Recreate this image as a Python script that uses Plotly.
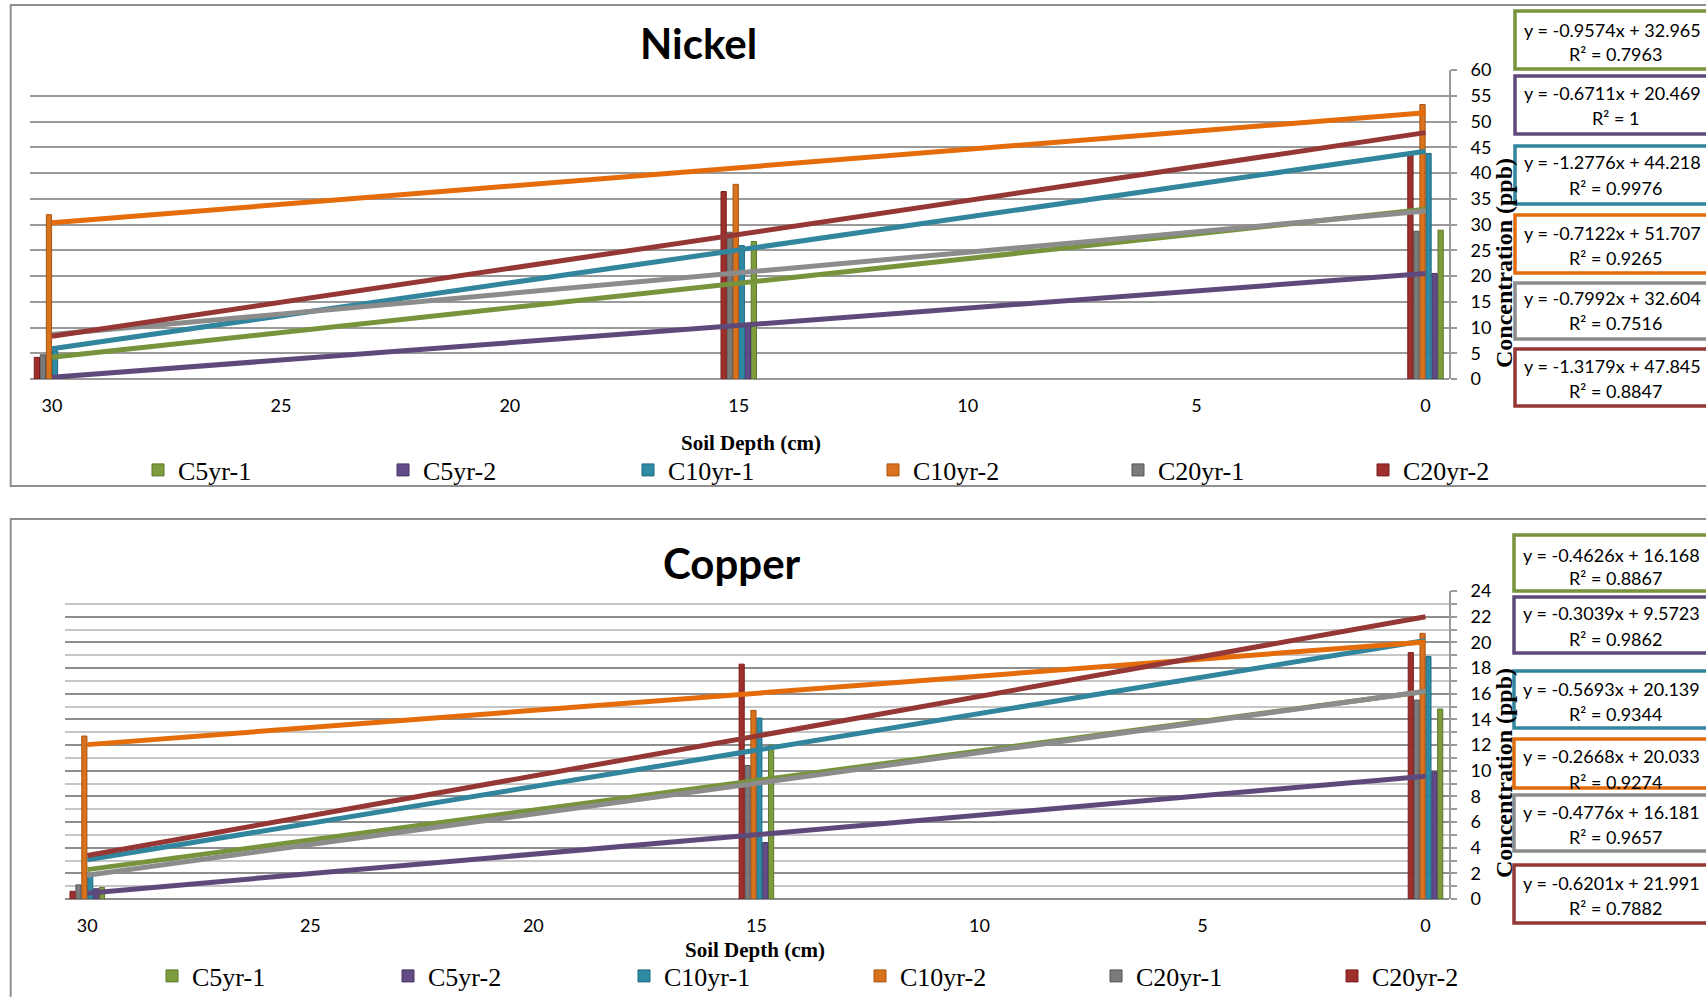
import plotly.graph_objects as go

W, H = 1706, 997

# ---------------- data ----------------
depths = [30, 15, 0]
series_names = ["C5yr-1", "C5yr-2", "C10yr-1", "C10yr-2", "C20yr-1", "C20yr-2"]

# Nickel concentrations (ppb) at depths 30, 15, 0 cm
ni_c5yr_1 = [0.2, 26.7, 28.9]
ni_c5yr_2 = [0.3, 10.4, 20.5]
ni_c10yr_1 = [5.5, 25.9, 43.8]
ni_c10yr_2 = [31.9, 37.8, 53.3]
ni_c20yr_1 = [4.7, 28.5, 28.7]
ni_c20yr_2 = [4.2, 36.4, 43.7]

# Copper concentrations (ppb) at depths 30, 15, 0 cm
cu_c5yr_1 = [0.9, 12.0, 14.8]
cu_c5yr_2 = [0.8, 4.4, 9.9]
cu_c10yr_1 = [1.8, 14.1, 18.9]
cu_c10yr_2 = [12.7, 14.7, 20.7]
cu_c20yr_1 = [1.1, 10.4, 15.5]
cu_c20yr_2 = [0.6, 18.3, 19.2]

# Linear trendlines shown on the chart (y = slope*x + intercept)
ni_slopes = [-0.9574, -0.6711, -1.2776, -0.7122, -0.7992, -1.3179]
ni_intercepts = [32.965, 20.469, 44.218, 51.707, 32.604, 47.845]
ni_r2 = ["0.7963", "1", "0.9976", "0.9265", "0.7516", "0.8847"]

cu_slopes = [-0.4626, -0.3039, -0.5693, -0.2668, -0.4776, -0.6201]
cu_intercepts = [16.168, 9.5723, 20.139, 20.033, 16.181, 21.991]
cu_r2 = ["0.8867", "0.9862", "0.9344", "0.9274", "0.9657", "0.7882"]

trend_x = [30, 0]
x_ticks = [30, 25, 20, 15, 10, 5, 0]

# ---------------- style ----------------
bar_fill = ["#7d9c3d", "#624c88", "#2e8aa5", "#d9721d", "#7b7b7b", "#9e2f2c"]
bar_edge = ["#5c7729", "#463367", "#1e6a80", "#a85412", "#555555", "#771e1c"]
line_col = ["#77933C", "#5F497A", "#31859C", "#E46C0A", "#8C8C8C", "#953735"]

TICK_FONT = dict(family="Lato, 'Open Sans', sans-serif", size=18, color="black")
SERIF = "'Liberation Serif', 'Times New Roman', serif"


def px(x):
    return x / W


def py(y):
    return 1 - y / H


ni_data = [ni_c5yr_1, ni_c5yr_2, ni_c10yr_1, ni_c10yr_2, ni_c20yr_1, ni_c20yr_2]
cu_data = [cu_c5yr_1, cu_c5yr_2, cu_c10yr_1, cu_c10yr_2, cu_c20yr_1, cu_c20yr_2]

fig = go.Figure()

slot = 0.132
bw = 0.115

panels = [
    ("x", "y", "legend", ni_data, ni_slopes, ni_intercepts),
    ("x2", "y2", "legend2", cu_data, cu_slopes, cu_intercepts),
]

for xa, ya, lg, data, slopes, intercepts in panels:
    for i, name in enumerate(series_names):
        fig.add_trace(go.Bar(
            x=depths, y=data[i], name=name, xaxis=xa, yaxis=ya, legend=lg,
            width=bw, offset=(i - 2.5) * slot - bw / 2,
            marker=dict(color=bar_fill[i], line=dict(color=bar_edge[i], width=1)),
            hoverinfo="x+y+name",
        ))
    for i, name in enumerate(series_names):
        fig.add_trace(go.Scatter(
            x=trend_x, y=[slopes[i] * t + intercepts[i] for t in trend_x],
            mode="lines", line=dict(color=line_col[i], width=5),
            xaxis=xa, yaxis=ya, showlegend=False, hoverinfo="skip",
            name=name + " trend",
        ))

xcommon = dict(
    tickmode="array", tickvals=x_ticks, ticktext=[str(t) for t in x_ticks],
    showgrid=False, zeroline=False, showline=False, ticks="",
    tickfont=TICK_FONT, ticklabelstandoff=14, fixedrange=True, automargin=False,
)

fig.update_layout(
    width=W, height=H,
    margin=dict(l=0, r=0, t=0, b=0, pad=0, autoexpand=False),
    paper_bgcolor="white", plot_bgcolor="white",
    barmode="overlay",
    xaxis=dict(domain=[px(30), px(1449)], range=[30.48, -0.513], anchor="y", **xcommon),
    yaxis=dict(
        domain=[py(379), py(70)], range=[0, 60], dtick=5, anchor="x", side="right",
        showgrid=True, gridcolor="#9a9a9a", gridwidth=2,
        zeroline=True, zerolinecolor="#9a9a9a", zerolinewidth=2,
        showline=True, linecolor="#9a9a9a", linewidth=2,
        ticks="outside", ticklen=6, tickcolor="#9a9a9a", tickwidth=2,
        tickfont=TICK_FONT, ticklabelstandoff=10, fixedrange=True, automargin=False,
    ),
    xaxis2=dict(domain=[px(65), px(1449)], range=[30.5, -0.527], anchor="y2", **xcommon),
    yaxis2=dict(
        domain=[py(899), py(591)], range=[0, 24], dtick=2, anchor="x2", side="right",
        showgrid=True, gridcolor="#8e8e8e", gridwidth=2,
        zeroline=True, zerolinecolor="#8e8e8e", zerolinewidth=2,
        showline=True, linecolor="#9a9a9a", linewidth=2,
        ticks="outside", ticklen=6, tickcolor="#9a9a9a", tickwidth=2,
        minor=dict(dtick=1, showgrid=True, gridcolor="#c6c6c6", gridwidth=2,
                   ticks="outside", ticklen=6, tickcolor="#9a9a9a"),
        tickfont=TICK_FONT, ticklabelstandoff=10, fixedrange=True, automargin=False,
    ),
    legend=dict(
        orientation="h", x=px(138), xanchor="left", y=py(470), yanchor="middle",
        font=dict(family=SERIF, size=26, color="black"),
        entrywidth=200, entrywidthmode="pixels", bgcolor="rgba(0,0,0,0)",
        traceorder="normal",
    ),
    legend2=dict(
        orientation="h", x=px(152), xanchor="left", y=py(976), yanchor="middle",
        font=dict(family=SERIF, size=26, color="black"),
        entrywidth=191, entrywidthmode="pixels", bgcolor="rgba(0,0,0,0)",
        traceorder="normal",
    ),
    showlegend=True,
)

shapes = []
annotations = []

# panel borders
shapes.append(dict(type="rect", xref="paper", yref="paper",
                   x0=px(10.7), x1=px(1760), y0=py(5), y1=py(486),
                   line=dict(color="#8f8f8f", width=2), layer="below"))
shapes.append(dict(type="rect", xref="paper", yref="paper",
                   x0=px(10.7), x1=px(1760), y0=py(519), y1=py(1040),
                   line=dict(color="#8f8f8f", width=2), layer="below"))

# trendline equation boxes: (top, bottom, line1 y, line2 y)
ni_boxes = [(11, 69, 30, 54), (76, 134, 93, 118), (146, 204, 162, 188),
            (215, 273, 233, 258), (283, 339, 298, 323), (349, 406, 366, 391)]
cu_boxes = [(535, 591, 555, 578), (597, 653, 613, 639), (671, 728, 689, 714),
            (739, 788, 756, 782), (795, 851, 812, 837), (865, 923, 883, 908)]

for boxes, slopes, intercepts, r2s, bx in [
        (ni_boxes, ni_slopes, ni_intercepts, ni_r2, 1515),
        (cu_boxes, cu_slopes, cu_intercepts, cu_r2, 1514)]:
    for i, (top, bot, l1, l2) in enumerate(boxes):
        shapes.append(dict(type="rect", xref="paper", yref="paper",
                           x0=px(bx), x1=px(1760), y0=py(bot), y1=py(top),
                           line=dict(color=line_col[i], width=3.5),
                           fillcolor="white", layer="above"))
        annotations.append(dict(
            xref="paper", yref="paper", x=px(bx + 7), y=py(l1),
            xanchor="left", yanchor="middle", showarrow=False,
            text=f"y = {slopes[i]}x + {intercepts[i]}",
            font=dict(family="Lato, sans-serif", size=18, color="black")))
        annotations.append(dict(
            xref="paper", yref="paper", x=px(1615), y=py(l2),
            xanchor="center", yanchor="middle", showarrow=False,
            text=f"R² = {r2s[i]}",
            font=dict(family="Lato, sans-serif", size=18, color="black")))

# titles and axis titles
annotations += [
    dict(xref="paper", yref="paper", x=px(698), y=py(43), text="<b>Nickel</b>",
         showarrow=False, xanchor="center", yanchor="middle",
         font=dict(family="Lato, sans-serif", size=42, color="black")),
    dict(xref="paper", yref="paper", x=px(732), y=py(563), text="<b>Copper</b>",
         showarrow=False, xanchor="center", yanchor="middle",
         font=dict(family="Lato, sans-serif", size=42, color="black")),
    dict(xref="paper", yref="paper", x=px(751), y=py(443), text="<b>Soil Depth (cm)</b>",
         showarrow=False, xanchor="center", yanchor="middle",
         font=dict(family=SERIF, size=21, color="black")),
    dict(xref="paper", yref="paper", x=px(755), y=py(950), text="<b>Soil Depth (cm)</b>",
         showarrow=False, xanchor="center", yanchor="middle",
         font=dict(family=SERIF, size=21, color="black")),
    dict(xref="paper", yref="paper", x=px(1504), y=py(263), text="<b>Concentration (ppb)</b>",
         showarrow=False, xanchor="center", yanchor="middle", textangle=-90,
         font=dict(family=SERIF, size=24, color="black")),
    dict(xref="paper", yref="paper", x=px(1504), y=py(773), text="<b>Concentration (ppb)</b>",
         showarrow=False, xanchor="center", yanchor="middle", textangle=-90,
         font=dict(family=SERIF, size=24, color="black")),
]

fig.update_layout(shapes=shapes, annotations=annotations)

fig.write_html(
    "out.html",
    config={"displayModeBar": False},
    post_script=(
        "document.documentElement.style.margin='0';"
        "document.body.style.margin='0';"
        "document.body.style.overflow='hidden';"
        "var gd=document.getElementById('{plot_id}');"
        "gd.style.position='absolute';gd.style.left='0px';gd.style.top='0px';"
    ),
)
